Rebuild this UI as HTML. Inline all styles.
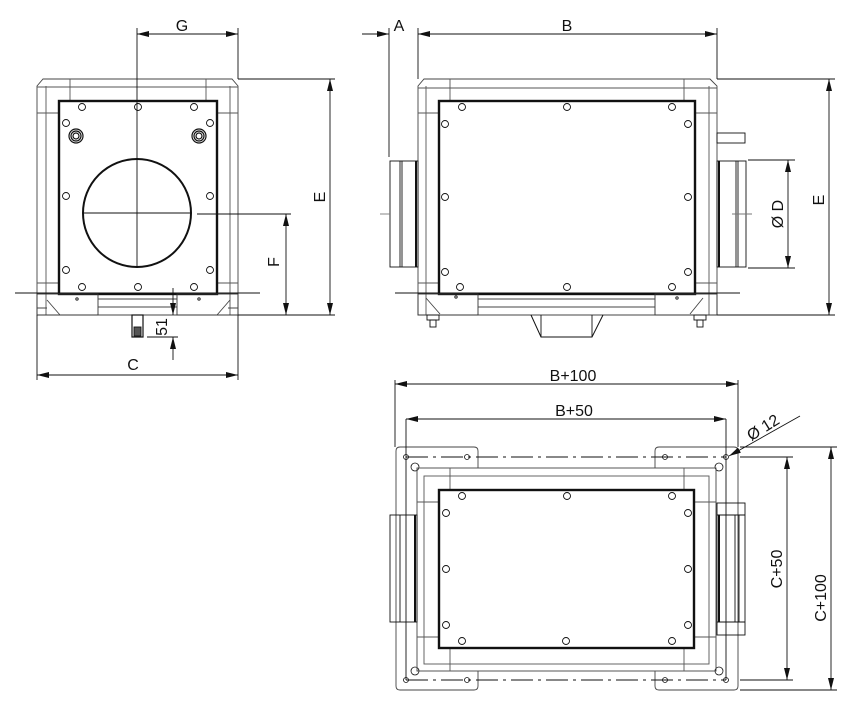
<!DOCTYPE html>
<html><head><meta charset="utf-8"><style>
html,body{margin:0;padding:0;background:#fff;}
svg{display:block;}
text{font-family:"Liberation Sans",sans-serif;font-size:16px;fill:#111;}
</style></head><body>
<svg width="857" height="710" viewBox="0 0 857 710" xmlns="http://www.w3.org/2000/svg">
<defs>
<marker id="ar" viewBox="0 0 12 6" refX="12" refY="3" markerWidth="12" markerHeight="6" orient="auto-start-reverse" markerUnits="userSpaceOnUse"><path d="M0,0 L12,3 L0,6 z" fill="#111"/></marker>
</defs>
<g fill="none" stroke="#111" stroke-width="0.9">
<!-- ============ LEFT VIEW ============ -->
<path d="M43,79 L232,79 L238,86 L238,315 L37,315 L37,86 Z" stroke="#444"/>
<line x1="46" y1="86" x2="46" y2="315" stroke="#555"/>
<line x1="230" y1="86" x2="230" y2="315" stroke="#555"/>
<line x1="37" y1="87" x2="238" y2="87" stroke="#555"/>
<line x1="70" y1="79" x2="70" y2="101" stroke="#555"/>
<line x1="206" y1="79" x2="206" y2="101" stroke="#555"/>
<line x1="37" y1="113" x2="59" y2="113" stroke="#555"/>
<line x1="217" y1="113" x2="238" y2="113" stroke="#555"/>
<line x1="37" y1="283" x2="59" y2="283" stroke="#555"/>
<line x1="217" y1="283" x2="238" y2="283" stroke="#555"/>
<rect x="59" y="101" width="158" height="193" stroke-width="2.4"/>
<circle cx="137" cy="213" r="54" stroke-width="2"/>
<line x1="137" y1="28" x2="137" y2="267"/>
<line x1="83" y1="213" x2="191" y2="213"/>
<g stroke-width="0.9">
<circle cx="82" cy="107" r="3.5"/><circle cx="138" cy="107" r="3.5"/><circle cx="194" cy="107" r="3.5"/>
<circle cx="66" cy="123" r="3.5"/><circle cx="210" cy="123" r="3.5"/>
<circle cx="66" cy="196" r="3.5"/><circle cx="210" cy="196" r="3.5"/>
<circle cx="66" cy="270" r="3.5"/><circle cx="210" cy="270" r="3.5"/>
<circle cx="82" cy="287" r="3.5"/><circle cx="138" cy="287" r="3.5"/><circle cx="194" cy="287" r="3.5"/>
</g>
<g stroke-width="1.2">
<circle cx="76" cy="136" r="7"/><circle cx="76" cy="136" r="5"/><circle cx="76" cy="136" r="3"/>
<circle cx="199" cy="136" r="7"/><circle cx="199" cy="136" r="5"/><circle cx="199" cy="136" r="3"/>
</g>
<line x1="15" y1="293" x2="260" y2="293"/>
<rect x="37" y="294" width="61" height="21" stroke="#333"/>
<rect x="177" y="294" width="61" height="21" stroke="#333"/>
<line x1="98" y1="299" x2="177" y2="299" stroke="#444"/>
<line x1="98" y1="307" x2="177" y2="307" stroke="#444"/>
<path d="M47,300 L60,315 M37,308 L47,308 M230,300 L217,315 M228,308 L238,308" stroke="#444"/>
<circle cx="77" cy="299" r="1.2"/><circle cx="199" cy="299" r="1.2"/>
<rect x="132" y="315" width="11" height="22" stroke-width="1.2"/>
<rect x="134" y="327" width="7" height="9" fill="#555"/>
<!-- dims -->
<line x1="238" y1="28" x2="238" y2="79"/>
<line x1="137" y1="34" x2="238" y2="34" marker-start="url(#ar)" marker-end="url(#ar)"/>
<line x1="238" y1="79" x2="335" y2="79"/>
<line x1="238" y1="315" x2="335" y2="315"/>
<line x1="330" y1="79" x2="330" y2="315" marker-start="url(#ar)" marker-end="url(#ar)"/>
<line x1="197" y1="214" x2="291" y2="214"/>
<line x1="286" y1="214" x2="286" y2="315" marker-start="url(#ar)" marker-end="url(#ar)"/>
<line x1="173" y1="288" x2="173" y2="315" marker-end="url(#ar)"/>
<line x1="173" y1="360" x2="173" y2="337" marker-end="url(#ar)"/>
<line x1="147" y1="337" x2="178" y2="337"/>
<line x1="37" y1="315" x2="37" y2="380"/>
<line x1="238" y1="315" x2="238" y2="380"/>
<line x1="37" y1="375" x2="238" y2="375" marker-start="url(#ar)" marker-end="url(#ar)"/>

<!-- ============ RIGHT VIEW ============ -->
<path d="M424,79 L710,79 L717,86 L717,315 L418,315 L418,86 Z" stroke="#444"/>
<line x1="418" y1="88" x2="717" y2="88" stroke="#555"/>
<line x1="426" y1="86" x2="426" y2="315" stroke="#555"/>
<line x1="709" y1="86" x2="709" y2="315" stroke="#555"/>
<line x1="450" y1="79" x2="450" y2="101" stroke="#555"/>
<line x1="684" y1="79" x2="684" y2="101" stroke="#555"/>
<line x1="418" y1="113" x2="439" y2="113" stroke="#555"/>
<line x1="695" y1="113" x2="717" y2="113" stroke="#555"/>
<line x1="418" y1="283" x2="439" y2="283" stroke="#555"/>
<line x1="695" y1="283" x2="717" y2="283" stroke="#555"/>
<rect x="439" y="101" width="256" height="193" stroke-width="2.4"/>
<g stroke-width="0.9">
<circle cx="462" cy="107" r="3.5"/><circle cx="567" cy="107" r="3.5"/><circle cx="672" cy="107" r="3.5"/>
<circle cx="445" cy="124" r="3.5"/><circle cx="688" cy="124" r="3.5"/>
<circle cx="445" cy="197" r="3.5"/><circle cx="688" cy="197" r="3.5"/>
<circle cx="445" cy="272" r="3.5"/><circle cx="688" cy="272" r="3.5"/>
<circle cx="460" cy="287" r="3.5"/><circle cx="567" cy="287" r="3.5"/><circle cx="672" cy="287" r="3.5"/>
</g>
<rect x="390" y="161" width="28" height="106"/>
<line x1="400" y1="161" x2="400" y2="267"/><line x1="402" y1="161" x2="402" y2="267"/>
<line x1="416" y1="161" x2="416" y2="267" stroke-width="2"/>
<rect x="717" y="161" width="29" height="106"/>
<line x1="736" y1="161" x2="736" y2="267"/><line x1="738" y1="161" x2="738" y2="267"/>
<line x1="719" y1="161" x2="719" y2="267" stroke-width="2"/>
<rect x="717" y="133" width="28" height="10"/>
<line x1="380" y1="214" x2="390" y2="214" stroke="#777"/>
<line x1="732" y1="214" x2="752" y2="214" stroke="#777"/>
<line x1="395" y1="293" x2="740" y2="293"/>
<rect x="418" y="294" width="60" height="21" stroke="#333"/>
<rect x="655" y="294" width="62" height="21" stroke="#333"/>
<line x1="478" y1="299" x2="655" y2="299" stroke="#444"/>
<line x1="478" y1="307" x2="655" y2="307" stroke="#444"/>
<path d="M426,298 L440,314 M703,298 L690,314" stroke="#444"/>
<circle cx="456" cy="297" r="1.2"/><circle cx="677" cy="298" r="1.2"/>
<path d="M531,315 L541,337 L592,337 L603,315" stroke-width="1"/>
<line x1="541" y1="315" x2="541" y2="337"/><line x1="592" y1="315" x2="592" y2="337"/>
<rect x="427" y="315" width="12" height="5"/><rect x="430" y="320" width="6" height="7"/>
<rect x="694" y="315" width="12" height="5"/><rect x="697" y="320" width="6" height="7"/>
<!-- dims -->
<line x1="389" y1="28" x2="389" y2="157"/>
<line x1="418" y1="28" x2="418" y2="79"/>
<line x1="717" y1="28" x2="717" y2="79"/>
<line x1="362" y1="34" x2="389" y2="34" marker-end="url(#ar)"/>
<line x1="418" y1="34" x2="717" y2="34" marker-start="url(#ar)" marker-end="url(#ar)"/>
<line x1="717" y1="79" x2="835" y2="79"/>
<line x1="717" y1="315" x2="835" y2="315"/>
<line x1="829" y1="79" x2="829" y2="315" marker-start="url(#ar)" marker-end="url(#ar)"/>
<line x1="748" y1="160" x2="795" y2="160"/>
<line x1="748" y1="268" x2="795" y2="268"/>
<line x1="788" y1="160" x2="788" y2="268" marker-start="url(#ar)" marker-end="url(#ar)"/>

<!-- ============ BOTTOM VIEW ============ -->
<path d="M400,447 H474 Q478,447 478,451 V468 M400,447 Q396,447 396,451 V686 Q396,690 400,690 H474 Q478,690 478,686 V671" stroke="#444"/>
<path d="M659,447 H734 Q738,447 738,451 V686 Q738,690 734,690 H659 Q655,690 655,686 V671 M655,468 V451 Q655,447 659,447" stroke="#444"/>
<line x1="406" y1="457" x2="726" y2="457" stroke-dasharray="22,5,3,5"/>
<line x1="406" y1="680" x2="726" y2="680" stroke-dasharray="22,5,3,5"/>
<line x1="406" y1="419" x2="406" y2="680"/>
<line x1="726" y1="419" x2="726" y2="680"/>
<g stroke-width="0.8">
<circle cx="406" cy="457" r="2.5"/><circle cx="467" cy="457" r="2.5"/><circle cx="665" cy="457" r="2.5"/><circle cx="726" cy="457" r="2.5"/>
<circle cx="406" cy="680" r="2.5"/><circle cx="467" cy="680" r="2.5"/><circle cx="665" cy="680" r="2.5"/><circle cx="726" cy="680" r="2.5"/>
<circle cx="415" cy="467" r="4"/><circle cx="719" cy="467" r="4"/><circle cx="415" cy="671" r="4"/><circle cx="719" cy="671" r="4"/>
</g>
<rect x="417" y="468" width="299" height="203" stroke="#444"/>
<rect x="424" y="476" width="285" height="188" stroke="#555"/>
<line x1="450" y1="468" x2="450" y2="490" stroke="#555"/><line x1="684" y1="468" x2="684" y2="490" stroke="#555"/>
<line x1="450" y1="648" x2="450" y2="671" stroke="#555"/><line x1="684" y1="648" x2="684" y2="671" stroke="#555"/>
<line x1="417" y1="502" x2="439" y2="502" stroke="#555"/><line x1="695" y1="502" x2="716" y2="502" stroke="#555"/>
<line x1="417" y1="637" x2="439" y2="637" stroke="#555"/><line x1="695" y1="637" x2="716" y2="637" stroke="#555"/>
<rect x="439" y="490" width="255" height="158" stroke-width="2.4"/>
<g stroke-width="0.9">
<circle cx="462" cy="496" r="3.5"/><circle cx="567" cy="496" r="3.5"/><circle cx="672" cy="496" r="3.5"/>
<circle cx="446" cy="513" r="3.5"/><circle cx="688" cy="513" r="3.5"/>
<circle cx="446" cy="569" r="3.5"/><circle cx="688" cy="569" r="3.5"/>
<circle cx="446" cy="625" r="3.5"/><circle cx="688" cy="625" r="3.5"/>
<circle cx="462" cy="641" r="3.5"/><circle cx="566" cy="641" r="3.5"/><circle cx="672" cy="641" r="3.5"/>
</g>
<rect x="390" y="515" width="27" height="107"/>
<line x1="400" y1="515" x2="400" y2="622"/>
<line x1="415" y1="515" x2="415" y2="622" stroke-width="2"/>
<rect x="717" y="503" width="28" height="132"/>
<line x1="717" y1="515" x2="745" y2="515"/><line x1="717" y1="622" x2="745" y2="622"/>
<line x1="735" y1="515" x2="735" y2="622"/><line x1="739" y1="515" x2="739" y2="622"/>
<line x1="719" y1="515" x2="719" y2="622" stroke-width="2"/>
<!-- dims -->
<line x1="395" y1="380" x2="395" y2="447"/>
<line x1="738" y1="380" x2="738" y2="447"/>
<line x1="395" y1="384" x2="738" y2="384" marker-start="url(#ar)" marker-end="url(#ar)"/>
<line x1="406" y1="419" x2="726" y2="419" marker-start="url(#ar)" marker-end="url(#ar)"/>
<line x1="800" y1="416" x2="729" y2="456" marker-end="url(#ar)"/>
<line x1="740" y1="457" x2="793" y2="457"/>
<line x1="740" y1="680" x2="793" y2="680"/>
<line x1="787" y1="457" x2="787" y2="680" marker-start="url(#ar)" marker-end="url(#ar)"/>
<line x1="740" y1="447" x2="837" y2="447"/>
<line x1="740" y1="690" x2="837" y2="690"/>
<line x1="831" y1="447" x2="831" y2="690" marker-start="url(#ar)" marker-end="url(#ar)"/>
</g>
<!-- labels -->
<text x="182" y="31" text-anchor="middle">G</text>
<text x="133" y="370" text-anchor="middle">C</text>
<text transform="translate(325,197) rotate(-90)" text-anchor="middle">E</text>
<text transform="translate(279,262) rotate(-90)" text-anchor="middle">F</text>
<text transform="translate(167,327) rotate(-90)" text-anchor="middle">51</text>
<text x="399" y="31" text-anchor="middle">A</text>
<text x="567" y="31" text-anchor="middle">B</text>
<text transform="translate(824,200) rotate(-90)" text-anchor="middle">E</text>
<text transform="translate(783,214) rotate(-90)" text-anchor="middle">Ø D</text>
<text x="573" y="381" text-anchor="middle">B+100</text>
<text x="574" y="416" text-anchor="middle">B+50</text>
<text transform="translate(766,432) rotate(-32)" text-anchor="middle">Ø 12</text>
<text transform="translate(782,569) rotate(-90)" text-anchor="middle">C+50</text>
<text transform="translate(826,598) rotate(-90)" text-anchor="middle">C+100</text>
</svg>
</body></html>
